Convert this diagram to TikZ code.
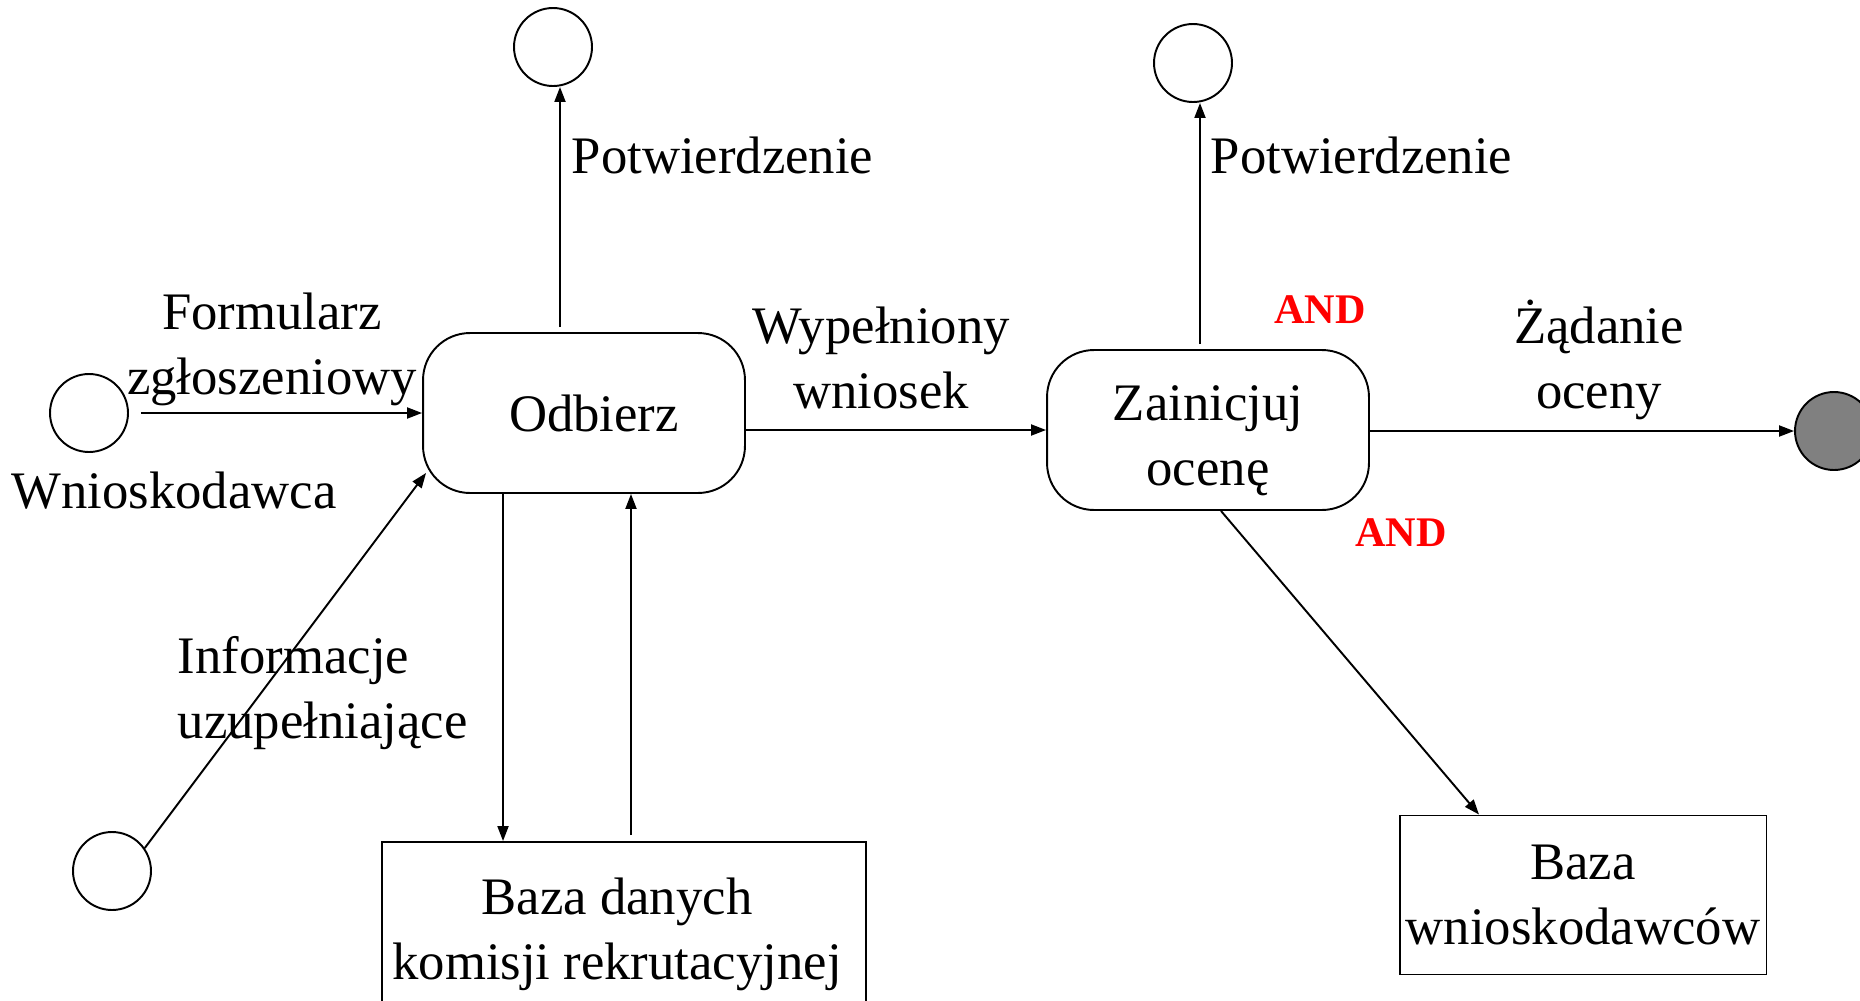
\documentclass[tikz,border=0pt]{standalone}
\usepackage{fontspec}
\setmainfont{Liberation Serif}
\usetikzlibrary{positioning,arrows.meta}

\begin{document}
\begin{tikzpicture}[x=0.02cm, y=-0.02cm, line width=1.1pt,
    font=\fontsize{30}{37}\selectfont,
    okrag/.style={draw, circle, minimum size=1.56cm, inner sep=0pt},
    stan/.style={draw, rounded corners=0.94cm, minimum width=6.44cm, minimum height=3.2cm, align=center},
    baza/.style={draw, rectangle, minimum width=#1, align=center},
    przeplyw/.style={-{Triangle[length=0.3cm, width=0.22cm]}},
    warunek/.style={text=red, font=\fontsize{24}{28}\selectfont\bfseries}]
  \useasboundingbox (0,0) rectangle (1860,1001);

  % Stany i bazy
  \node[okrag] (wnio) at (89,413) {};
  \node (wniolbl) at (174,491) {Wnioskodawca};
  \node[okrag] (infoc) at (112,871) {};
  \node[stan] (odb) at (584,413) {\hspace*{0.4cm}Odbierz};
  \node[okrag] (potw1) at (553,47) {};
  \node[stan, label={[align=center, yshift=-0.22cm]center:Zainicjuj\\ocenę}] (zain) at (1208,430) {};
  \node[okrag] (potw2) at (1193,63) {};
  \node[okrag, fill=gray] (koniec) at (1834,431) {};
  \node[baza=9.68cm, minimum height=3.68cm,
        label={[align=center, xshift=-0.14cm]center:Baza danych\\komisji rekrutacyjnej}] (bazak) at (624,934) {};
  \node[baza=7.34cm, minimum height=3.18cm] (bazaw) at (1583,895) {Baza\\wnioskodawców};

  % Przeplywy
  \draw[przeplyw] ([xshift=0.24cm]wnio.east) -- (wnio.east -| odb.west);
  \draw[przeplyw] (infoc.35) -- ([shift={(4,-21)}]odb.south west);
  \draw[przeplyw] ([xshift=0.14cm, yshift=0.1cm]odb.north -| potw1) -- ([xshift=0.14cm]potw1.south);
  \draw[przeplyw] (odb.east |- zain.west) -- (zain.west);
  \draw[przeplyw] ([xshift=-1.62cm]odb.south) -- ([xshift=-1.62cm]odb.south |- bazak.north);
  \draw[przeplyw] ([xshift=0.94cm, yshift=0.12cm]odb.south |- bazak.north) -- ([xshift=0.94cm]odb.south);
  \draw[przeplyw] ([xshift=0.14cm, yshift=0.1cm]zain.north -| potw2) -- ([xshift=0.14cm]potw2.south);
  \draw[przeplyw] (zain.east |- koniec.west) -- (koniec.west);
  \draw[przeplyw] ([xshift=0.26cm]zain.south) -- ([xshift=-2.08cm]bazaw.north);

  % Etykiety
  \node[align=center] (lblform) at (272,349) {Formularz\\zgłoszeniowy};
  \node[anchor=west] (lblpotw1) at (565,155) {Potwierdzenie};
  \node[align=center] (lblwyp) at (881,358) {Wypełniony\\wniosek};
  \node[anchor=west, align=left] (lblinfo) at (171,693) {Informacje\\uzupełniające};
  \node[anchor=west] (lblpotw2) at (1204,155) {Potwierdzenie};
  \node[align=center] (lblzad) at (1599,360) {Żądanie\\oceny};
  \node[warunek] (and1) at (1320,310) {AND};
  \node[warunek] (and2) at (1401,533) {AND};
\end{tikzpicture}
\end{document}
